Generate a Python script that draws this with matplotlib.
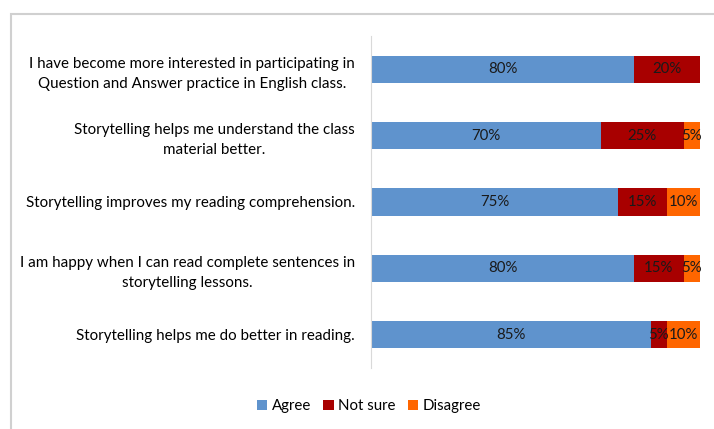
import matplotlib.pyplot as plt
from matplotlib.patches import Rectangle

plt.rcParams['font.family'] = ['Lato', 'DejaVu Sans']

statements = [
    "I have become more interested in participating in\nQuestion and Answer practice in English class.",
    "Storytelling helps me understand the class\nmaterial better.",
    "Storytelling improves my reading comprehension.",
    "I am happy when I can read complete sentences in\nstorytelling lessons.",
    "Storytelling helps me do better in reading.",
]
agree = [80, 70, 75, 80, 85]
not_sure = [20, 25, 15, 15, 5]
disagree = [0, 5, 10, 5, 10]

series = [("Agree", agree, "#5f93cd"),
          ("Not sure", not_sure, "#a80000"),
          ("Disagree", disagree, "#ff6600")]

fig = plt.figure(figsize=(7.14, 4.29), dpi=100)
fig.patches.append(Rectangle((11 / 714, -0.1), 1.2, 1 - 14 / 429 + 0.1,
                             transform=fig.transFigure, fill=False,
                             edgecolor="#d0d0d0", linewidth=1.5))
ax = fig.add_axes([371 / 714, 1 - 368 / 429, 329 / 714, 332 / 429])

pos = list(range(len(statements)))[::-1]
left = [0] * len(statements)
for name, vals, col in series:
    ax.barh(pos, vals, left=left, height=0.41, color=col, label=name)
    for y, l, v in zip(pos, left, vals):
        if v > 0:
            ax.text(l + v / 2, y, f"{v}%", ha="center", va="center",
                    fontsize=10.8, color="#1a1a1a")
    left = [a + b for a, b in zip(left, vals)]

ax.set_xlim(0, 100)
ax.set_ylim(-0.5, 4.5)
ax.set_yticks(pos)
ax.set_yticklabels(statements, fontsize=10.9, multialignment="center",
                   linespacing=1.55)
ax.tick_params(axis="y", length=0, pad=11.5)
ax.set_xticks([])
for s in ["top", "right", "bottom"]:
    ax.spines[s].set_visible(False)
ax.spines["left"].set_color("#d9d9d9")

fig.legend(loc="center", bbox_to_anchor=(369 / 714, 1 - 406 / 429), ncol=3,
           frameon=False, fontsize=10.8, handlelength=0.7, handleheight=0.7,
           handletextpad=0.3, columnspacing=0.8)

fig.savefig("out.png", dpi=100)
